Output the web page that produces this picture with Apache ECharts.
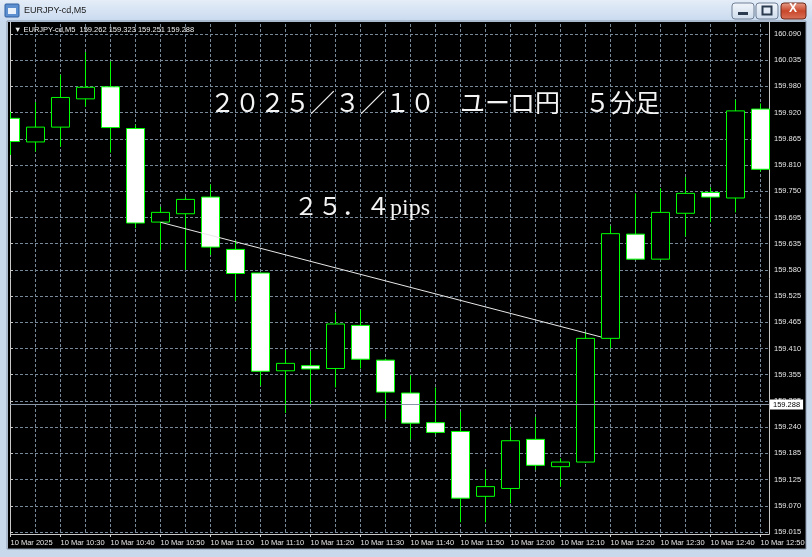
<!DOCTYPE html>
<html><head><meta charset="utf-8">
<script src="https://cdn.jsdelivr.net/npm/echarts@6/dist/echarts.min.js"></script>
<style>html,body{margin:0;padding:0;background:#000;}#c{width:812px;height:557px;}</style>
</head><body><div id="c"></div>
<script>
// ---- data ----
const times  = ['10:20','10:25','10:30','10:35','10:40','10:45','10:50','10:55','11:00','11:05','11:10','11:15','11:20','11:25','11:30','11:35','11:40','11:45','11:50','11:55','12:00','12:05','12:10','12:15','12:20','12:25','12:30','12:35','12:40','12:45','12:50'];
const opens  = [159.908,159.857,159.889,159.950,159.976,159.886,159.684,159.702,159.738,159.625,159.574,159.363,159.374,159.368,159.461,159.386,159.315,159.251,159.232,159.092,159.109,159.215,159.156,159.166,159.433,159.658,159.604,159.703,159.748,159.736,159.928];
const highs  = [159.922,159.943,160.002,160.051,160.031,159.894,159.717,159.738,159.765,159.645,159.575,159.408,159.406,159.489,159.494,159.389,159.353,159.327,159.275,159.150,159.242,159.263,159.174,159.447,159.676,159.746,159.757,159.781,159.759,159.948,159.940];
const lows   = [159.829,159.836,159.847,159.933,159.834,159.671,159.624,159.581,159.613,159.514,159.331,159.272,159.291,159.327,159.368,159.259,159.215,159.226,159.036,159.036,159.077,159.149,159.113,159.165,159.412,159.603,159.603,159.653,159.684,159.705,159.793];
const closes = [159.858,159.889,159.953,159.975,159.888,159.682,159.705,159.733,159.630,159.573,159.362,159.379,159.367,159.464,159.388,159.317,159.250,159.230,159.088,159.113,159.212,159.159,159.166,159.433,159.659,159.604,159.705,159.746,159.738,159.924,159.798];
const yTickLabels = ['159.015','159.070','159.125','159.185','159.240','159.295','159.355','159.410','159.465','159.525','159.580','159.635','159.695','159.750','159.810','159.865','159.920','159.980','160.035','160.090'];
const dateLabel = '10 Mar 2025';
const dayPrefix = '10 Mar ';
const bidPrice = 159.288;
const quote = ['159.262','159.323','159.251','159.288'];
const symbolName = 'EURJPY-cd,M5';
const trendPoints = [[6, 159.6836], [23.62, 159.436]];
const titleText = '２０２５／３／１０　ユーロ円　５分足';
const pipsText = '２５．４pips';

// ---- layout ----
const yMin = parseFloat(yTickLabels[0]);
const yMax = parseFloat(yTickLabels[yTickLabels.length - 1]);
const nInt = yTickLabels.length - 1;
const yInterval = (yMax - yMin) / nInt;
const PX = 498 / (yMax - yMin);          // pixels per price unit
const mainMin = yMin - 2 / PX;
const mainMax = yMax + 10 / PX;
const axFont = "'Liberation Sans',sans-serif";
const gridCol = '#778899';
const frameCol = '#c8c8c8';
const green = '#00ff00';

const candleData = times.map((t, i) => [opens[i], closes[i], lows[i], highs[i]]);

const chart = echarts.init(document.getElementById('c'), null, {renderer: 'canvas'});
chart.setOption({
  backgroundColor: '#000',
  animation: false,
  grid: [
    {left: 10.5, right: 51.5, top: 24, bottom: 23},
    {left: 10, right: 43, top: 34, bottom: 25}
  ],
  xAxis: [
    {type: 'category', gridIndex: 0, data: times, boundaryGap: false,
     axisLine: {show: false},
     axisTick: {show: true, interval: 1, length: 3, lineStyle: {color: frameCol}},
     axisLabel: {interval: 1, showMinLabel: true, showMaxLabel: true, align: 'left', margin: 5,
       color: '#e6e6e6', fontSize: 7.5, fontFamily: axFont,
       formatter: (v, i) => i === 0 ? dateLabel : dayPrefix + v},
     splitLine: {show: true, interval: 0, lineStyle: {color: gridCol, type: [3, 2], width: 1}}},
    {type: 'value', gridIndex: 1, min: 0, max: 1, show: false},
    {type: 'value', gridIndex: 0, min: 0, max: times.length - 1, show: false}
  ],
  yAxis: [
    {type: 'value', gridIndex: 0, min: mainMin, max: mainMax, show: false},
    {type: 'value', gridIndex: 1, position: 'right', min: yMin, max: yMax, interval: yInterval,
     axisLine: {show: false},
     axisTick: {show: true, length: 3, lineStyle: {color: frameCol}},
     axisLabel: {margin: 5, color: '#e6e6e6', fontSize: 7.5, fontFamily: axFont, showMinLabel: true, showMaxLabel: true,
       formatter: v => yTickLabels[Math.round((v - yMin) / yInterval)] || ''},
     splitLine: {show: true, lineStyle: {color: gridCol, type: [3, 2], width: 1}}}
  ],
  series: [
    {type: 'candlestick', xAxisIndex: 0, yAxisIndex: 0, data: candleData, barWidth: 18, clip: false,
     itemStyle: {color: '#000', color0: '#fff', borderColor: green, borderColor0: green, borderWidth: 1},
     emphasis: {disabled: true}, z: 2},
    {type: 'line', xAxisIndex: 2, yAxisIndex: 0, data: trendPoints, symbol: 'none', silent: true,
     lineStyle: {color: '#e8e8e8', width: 1}, z: 3},
    {type: 'line', xAxisIndex: 1, yAxisIndex: 1, data: [], silent: true,
     markLine: {silent: true, symbol: ['none', 'none'], animation: false,
       data: [{yAxis: bidPrice}],
       lineStyle: {color: '#8a96a6', width: 1, type: 'solid'},
       label: {show: true, position: 'end', distance: 1, formatter: bidPrice.toFixed(3), color: '#000',
         backgroundColor: '#fff', fontSize: 7.5, fontFamily: axFont, padding: [1, 3, 1, 3]}}}
  ],
  graphic: [
    // chart frame
    {type: 'polyline', z: 1, silent: true, shape: {points: [[10.5, 22], [10.5, 534.5], [769.5, 534.5], [769.5, 22]]},
     style: {stroke: frameCol, fill: null, lineWidth: 1}},
    // header quote
    {type: 'text', z: 10, left: 14, top: 26, silent: true,
     style: {text: '▼ ' + symbolName + '  ' + quote.join(' '), fill: '#f0f0f0', font: "7.5px " + axFont}},
    // annotation texts
    {type: 'text', z: 10, left: 210, top: 93, silent: true,
     style: {text: titleText, fill: '#f4f4f4', font: "25px 'Liberation Serif','Noto Sans CJK JP',serif"}},
    {type: 'text', z: 10, left: 294, top: 197, silent: true,
     style: {text: pipsText, fill: '#f4f4f4', font: "24px 'Liberation Serif','Noto Sans CJK JP',serif"}},
    // window chrome
    {type: 'rect', z: 100, silent: true, shape: {x: 8, y: 22, width: 2, height: 527}, style: {fill: '#000'}},
    {type: 'rect', z: 100, silent: true, shape: {x: 0, y: 0, width: 812, height: 22},
     style: {fill: new echarts.graphic.LinearGradient(0, 0, 0, 1, [{offset: 0, color: '#e4edf8'}, {offset: 1, color: '#c8d9ee'}])}},
    {type: 'rect', z: 100, silent: true, shape: {x: 0, y: 22, width: 8, height: 535}, style: {fill: '#c9d9ec'}},
    {type: 'rect', z: 100, silent: true, shape: {x: 806, y: 22, width: 6, height: 535}, style: {fill: '#c9d9ec'}},
    {type: 'rect', z: 100, silent: true, shape: {x: 0, y: 549, width: 812, height: 8}, style: {fill: '#c9d9ec'}},
    {type: 'rect', z: 101, silent: true, shape: {x: 7, y: 21, width: 799, height: 528}, style: {fill: null, stroke: '#8b99ab', lineWidth: 1}},
    // icon
    {type: 'rect', z: 101, silent: true, shape: {x: 5, y: 4, width: 14, height: 13, r: 1}, style: {fill: '#5b8fd0', stroke: '#2f5f9f'}},
    {type: 'rect', z: 102, silent: true, shape: {x: 8, y: 8, width: 8, height: 6}, style: {fill: '#e8f0fa'}},
    {type: 'text', z: 101, left: 24, top: 6, silent: true,
     style: {text: symbolName, fill: '#1a1a1a', font: "9px " + axFont}},
    // buttons
    {type: 'rect', z: 101, silent: true, shape: {x: 732, y: 3, width: 22, height: 16, r: 3},
     style: {fill: new echarts.graphic.LinearGradient(0, 0, 0, 1, [{offset: 0, color: '#f2f6fb'}, {offset: 1, color: '#cfdcec'}]), stroke: '#6f7f95'}},
    {type: 'rect', z: 102, silent: true, shape: {x: 738, y: 12, width: 10, height: 3}, style: {fill: '#2b3a4f'}},
    {type: 'rect', z: 101, silent: true, shape: {x: 756, y: 3, width: 22, height: 16, r: 3},
     style: {fill: new echarts.graphic.LinearGradient(0, 0, 0, 1, [{offset: 0, color: '#f2f6fb'}, {offset: 1, color: '#cfdcec'}]), stroke: '#6f7f95'}},
    {type: 'rect', z: 102, silent: true, shape: {x: 762.5, y: 6.5, width: 9, height: 8}, style: {fill: null, stroke: '#2b3a4f', lineWidth: 2}},
    {type: 'rect', z: 101, silent: true, shape: {x: 781, y: 3, width: 25, height: 16, r: 3},
     style: {fill: new echarts.graphic.LinearGradient(0, 0, 0, 1, [{offset: 0, color: '#e8a08c'}, {offset: 0.5, color: '#c9472b'}, {offset: 1, color: '#d9735a'}]), stroke: '#6b2a1c'}},
    {type: 'text', z: 102, left: 789, top: 3, silent: true,
     style: {text: 'X', fill: '#fff', font: "bold 12px 'Liberation Sans',sans-serif"}}
  ]
});
</script></body></html>
